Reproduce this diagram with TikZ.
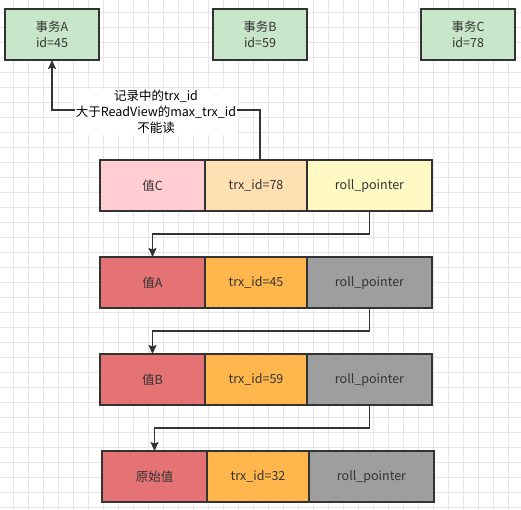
\documentclass[tikz,border=0pt]{standalone}
\usepackage{fontspec}
\setmainfont{Noto Sans CJK SC}
\usepackage{tikz}
\usetikzlibrary{arrows.meta}
\usepackage{xcolor}
\definecolor{cGreen}{HTML}{C8E6C9}
\definecolor{cPink}{HTML}{FFCDD2}
\definecolor{cPeach}{HTML}{FFE0B2}
\definecolor{cLemon}{HTML}{FFF9C4}
\definecolor{cRed}{HTML}{E57373}
\definecolor{cOrange}{HTML}{FFB74D}
\definecolor{cGrey}{HTML}{9E9E9E}
\definecolor{cLine}{HTML}{333333}
\definecolor{cGrid}{HTML}{E6E6E6}
\tikzset{%
	every cell/.style={
		draw=cLine,
		line width=1.5pt,
		minimum height=51pt,
		inner sep=0pt,
		outer sep=0pt,
		text=cLine,
		font=\fontsize{12.5}{16}\selectfont
	},
	txbox/.style={
		every cell,
		fill=cGreen,
		minimum width=94pt,
		align=center
	},
	note/.style={
		fill=white,
		align=center,
		inner sep=1pt,
		yshift=-2pt,
		text=black,
		font=\fontsize{12.5}{16}\selectfont
	},
	arr/.style={
		draw=cLine,
		line width=1.5pt,
		-{Stealth[length=9pt,width=8pt,inset=1.5pt]}
	},
}

\begin{document}
\begin{tikzpicture}[x=1pt,y=-1pt]
	% Define the spacing between the record rows
	\newcommand{\rowGap}{97}
	\newcommand{\rowTop}{185.5}
	
	% Background and grid
	\useasboundingbox (0,0) rectangle (521,510);
	\fill[white] (0,0) rectangle (521,510);
	\foreach \k in {0,...,34} {
		\draw[cGrid, line width=0.8pt] (13.3+15*\k,0) -- (13.3+15*\k,510);
	}
	\foreach \k in {0,...,33} {
		\draw[cGrid, line width=0.8pt] (0,12+15*\k) -- (521,12+15*\k);
	}
	
	% Transactions on top
	\foreach \t/\id/\x in {A/45/52, B/59/260, C/78/468} {
		\node[txbox] (t\t) at (\x,34.5) {事务\t\\id=\id};
	}
	
	% Version chain of the record
	\foreach \row/\val/\trx/\fa/\fb/\fc/\dx in {1/值C/78/cPink/cPeach/cLemon/0, 2/值A/45/cRed/cOrange/cGrey/0, 3/值B/59/cRed/cOrange/cGrey/0, 4/原始值/32/cRed/cOrange/cGrey/2} {
		\node[every cell, fill=\fa, minimum width=105pt] (rv\row) at (152.5+\dx, \rowTop+\rowGap*\row-\rowGap) {\val};
		\node[every cell, fill=\fb, minimum width=102pt] (rt\row) at (256+\dx, \rowTop+\rowGap*\row-\rowGap) {trx\_id=\trx};
		\node[every cell, fill=\fc, minimum width=125pt] (rp\row) at (369.5+\dx, \rowTop+\rowGap*\row-\rowGap) {roll\_pointer};
	}
	
	% roll_pointer links
	\foreach \row [evaluate=\row as \nxt using int(\row+1)] in {1,2,3} {
		\draw[arr] (rp\row.south) -- ++(0,23) -| (rv\nxt.north);
	}
	
	% Check against the ReadView
	\draw[arr] ([xshift=4pt]rt1.north) -- ++(0,-50) -| node[note, pos=0.25] (why) {记录中的trx\_id\\大于ReadView的max\_trx\_id\\不能读} (tA.south);
\end{tikzpicture}
\end{document}
